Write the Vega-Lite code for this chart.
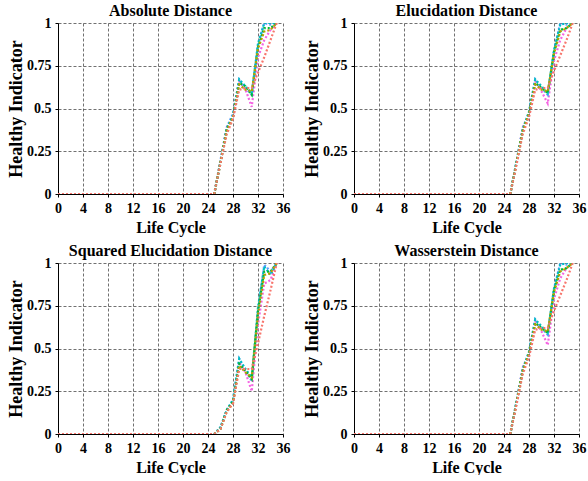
{
  "$schema": "https://vega.github.io/schema/vega-lite/v6.json",
  "padding": {"left": 7, "top": 3, "right": 5, "bottom": 0},
  "background": "white",
  "data": {"values": [
    {"p":"Absolute Distance","x":0,"s1":0,"s2":0,"s3":0,"s4":0,"s5":0,"s6":0},
    {"p":"Absolute Distance","x":25,"s1":0,"s2":0,"s3":0,"s4":0,"s5":0,"s6":0},
    {"p":"Absolute Distance","x":26,"s1":0.18,"s2":0.19,"s3":0.18,"s4":0.19,"s5":0.2,"s6":0.19},
    {"p":"Absolute Distance","x":27,"s1":0.35,"s2":0.37,"s3":0.38,"s4":0.38,"s5":0.39,"s6":0.39},
    {"p":"Absolute Distance","x":28,"s1":0.44,"s2":0.45,"s3":0.45,"s4":0.46,"s5":0.47,"s6":0.45},
    {"p":"Absolute Distance","x":29,"s1":0.61,"s2":0.64,"s3":0.65,"s4":0.67,"s5":0.67,"s6":0.66},
    {"p":"Absolute Distance","x":30,"s1":0.62,"s2":0.61,"s3":0.63,"s4":0.63,"s5":0.62,"s6":0.61},
    {"p":"Absolute Distance","x":31,"s1":0.62,"s2":0.6,"s3":0.58,"s4":0.59,"s5":0.58,"s6":0.51},
    {"p":"Absolute Distance","x":32,"s1":0.71,"s2":0.85,"s3":0.86,"s4":0.88,"s5":0.87,"s6":0.8},
    {"p":"Absolute Distance","x":33,"s1":0.8,"s2":0.95,"s3":0.97,"s4":1.0,"s5":1.0,"s6":0.9},
    {"p":"Absolute Distance","x":34,"s1":0.9,"s2":0.96,"s3":0.97,"s4":1.0,"s5":0.99,"s6":0.96},
    {"p":"Absolute Distance","x":35,"s1":1,"s2":1,"s3":1,"s4":1,"s5":1,"s6":1},
    {"p":"Elucidation Distance","x":0,"s1":0,"s2":0,"s3":0,"s4":0,"s5":0,"s6":0},
    {"p":"Elucidation Distance","x":25,"s1":0,"s2":0,"s3":0,"s4":0,"s5":0,"s6":0},
    {"p":"Elucidation Distance","x":26,"s1":0.17,"s2":0.18,"s3":0.18,"s4":0.19,"s5":0.19,"s6":0.18},
    {"p":"Elucidation Distance","x":27,"s1":0.35,"s2":0.37,"s3":0.37,"s4":0.38,"s5":0.38,"s6":0.39},
    {"p":"Elucidation Distance","x":28,"s1":0.45,"s2":0.47,"s3":0.47,"s4":0.48,"s5":0.48,"s6":0.46},
    {"p":"Elucidation Distance","x":29,"s1":0.61,"s2":0.64,"s3":0.65,"s4":0.67,"s5":0.67,"s6":0.66},
    {"p":"Elucidation Distance","x":30,"s1":0.62,"s2":0.61,"s3":0.62,"s4":0.63,"s5":0.62,"s6":0.6},
    {"p":"Elucidation Distance","x":31,"s1":0.62,"s2":0.6,"s3":0.59,"s4":0.59,"s5":0.58,"s6":0.53},
    {"p":"Elucidation Distance","x":32,"s1":0.72,"s2":0.82,"s3":0.83,"s4":0.84,"s5":0.84,"s6":0.78},
    {"p":"Elucidation Distance","x":33,"s1":0.81,"s2":0.95,"s3":0.96,"s4":0.99,"s5":1.0,"s6":0.9},
    {"p":"Elucidation Distance","x":34,"s1":0.9,"s2":0.97,"s3":0.97,"s4":1.0,"s5":0.99,"s6":0.97},
    {"p":"Elucidation Distance","x":35,"s1":1,"s2":1,"s3":1,"s4":1,"s5":1,"s6":1},
    {"p":"Squared Elucidation Distance","x":0,"s1":0,"s2":0,"s3":0,"s4":0,"s5":0,"s6":0},
    {"p":"Squared Elucidation Distance","x":25,"s1":0,"s2":0,"s3":0,"s4":0,"s5":0,"s6":0},
    {"p":"Squared Elucidation Distance","x":26,"s1":0.03,"s2":0.03,"s3":0.03,"s4":0.04,"s5":0.04,"s6":0.03},
    {"p":"Squared Elucidation Distance","x":27,"s1":0.13,"s2":0.13,"s3":0.14,"s4":0.14,"s5":0.14,"s6":0.14},
    {"p":"Squared Elucidation Distance","x":28,"s1":0.18,"s2":0.18,"s3":0.19,"s4":0.2,"s5":0.2,"s6":0.18},
    {"p":"Squared Elucidation Distance","x":29,"s1":0.38,"s2":0.4,"s3":0.41,"s4":0.44,"s5":0.44,"s6":0.42},
    {"p":"Squared Elucidation Distance","x":30,"s1":0.38,"s2":0.36,"s3":0.37,"s4":0.38,"s5":0.37,"s6":0.36},
    {"p":"Squared Elucidation Distance","x":31,"s1":0.38,"s2":0.33,"s3":0.32,"s4":0.33,"s5":0.31,"s6":0.25},
    {"p":"Squared Elucidation Distance","x":32,"s1":0.53,"s2":0.7,"s3":0.72,"s4":0.74,"s5":0.72,"s6":0.64},
    {"p":"Squared Elucidation Distance","x":33,"s1":0.69,"s2":0.93,"s3":0.95,"s4":0.98,"s5":0.99,"s6":0.88},
    {"p":"Squared Elucidation Distance","x":34,"s1":0.84,"s2":0.94,"s3":0.95,"s4":0.93,"s5":0.95,"s6":0.9},
    {"p":"Squared Elucidation Distance","x":35,"s1":1,"s2":1,"s3":1,"s4":1,"s5":1,"s6":1},
    {"p":"Wasserstein Distance","x":0,"s1":0,"s2":0,"s3":0,"s4":0,"s5":0,"s6":0},
    {"p":"Wasserstein Distance","x":25,"s1":0,"s2":0,"s3":0,"s4":0,"s5":0,"s6":0},
    {"p":"Wasserstein Distance","x":26,"s1":0.17,"s2":0.18,"s3":0.18,"s4":0.19,"s5":0.19,"s6":0.18},
    {"p":"Wasserstein Distance","x":27,"s1":0.35,"s2":0.37,"s3":0.37,"s4":0.38,"s5":0.38,"s6":0.39},
    {"p":"Wasserstein Distance","x":28,"s1":0.45,"s2":0.47,"s3":0.47,"s4":0.48,"s5":0.48,"s6":0.46},
    {"p":"Wasserstein Distance","x":29,"s1":0.61,"s2":0.64,"s3":0.65,"s4":0.67,"s5":0.67,"s6":0.66},
    {"p":"Wasserstein Distance","x":30,"s1":0.62,"s2":0.61,"s3":0.62,"s4":0.63,"s5":0.62,"s6":0.6},
    {"p":"Wasserstein Distance","x":31,"s1":0.62,"s2":0.6,"s3":0.59,"s4":0.59,"s5":0.58,"s6":0.52},
    {"p":"Wasserstein Distance","x":32,"s1":0.72,"s2":0.83,"s3":0.84,"s4":0.85,"s5":0.85,"s6":0.79},
    {"p":"Wasserstein Distance","x":33,"s1":0.81,"s2":0.95,"s3":0.96,"s4":0.99,"s5":1.0,"s6":0.91},
    {"p":"Wasserstein Distance","x":34,"s1":0.9,"s2":0.97,"s3":0.97,"s4":1.0,"s5":0.99,"s6":0.97},
    {"p":"Wasserstein Distance","x":35,"s1":1,"s2":1,"s3":1,"s4":1,"s5":1,"s6":1}
  ]},
  "transform": [{"fold": ["s6","s5","s4","s3","s2","s1"], "as": ["series","v"]}],
  "facet": {"field": "p", "type": "nominal", "sort": ["Absolute Distance","Elucidation Distance","Squared Elucidation Distance","Wasserstein Distance"],
    "header": {"title": null, "labelFont": "Liberation Serif", "labelFontWeight": "bold", "labelFontSize": 16, "labelColor": "black", "labelPadding": -3}},
  "columns": 2,
  "spacing": {"column": 13, "row": 8},
  "resolve": {"axis": {"x": "independent", "y": "independent"}},
  "spec": {
    "width": 225,
    "height": 171,
    "mark": {"type": "line", "strokeDash": [2, 2], "strokeWidth": 2.2, "clip": true},
    "encoding": {
      "x": {"field": "x", "type": "quantitative", "scale": {"domain": [0, 36], "nice": false},
        "axis": {"title": "Life Cycle", "values": [0,4,8,12,16,20,24,28,32,36]}},
      "y": {"field": "v", "type": "quantitative", "scale": {"domain": [0, 1], "nice": false},
        "axis": {"title": "Healthy Indicator", "values": [0,0.25,0.5,0.75,1], "labelExpr": "'' + datum.value"}},
      "color": {"field": "series", "type": "nominal", "legend": null,
        "scale": {"domain": ["s1","s2","s3","s4","s5","s6"], "range": ["#F8766D","#B79F00","#00BA38","#00BFC4","#619CFF","#F564E3"]}}
    }
  },
  "config": {
    "view": {"stroke": null},
    "font": "Liberation Serif",
    "axis": {
      "labelFont": "Liberation Serif", "labelFontWeight": "bold", "labelFontSize": 14, "labelColor": "black",
      "titleFont": "Liberation Serif", "titleFontWeight": "bold", "titleFontSize": 17, "titleColor": "black",
      "domainColor": "black", "domainWidth": 1,
      "tickColor": "black", "tickSize": 3,
      "gridColor": "#333", "gridDash": [3, 2], "gridWidth": 0.7, "gridOpacity": 1,
      "labelPadding": 4, "titlePadding": 4
    },
    "axisX": {"titleFontSize": 16, "labelFlush": false},
    "axisY": {"titleFontSize": 18, "labelFlush": false, "titlePadding": 1}
  }
}
